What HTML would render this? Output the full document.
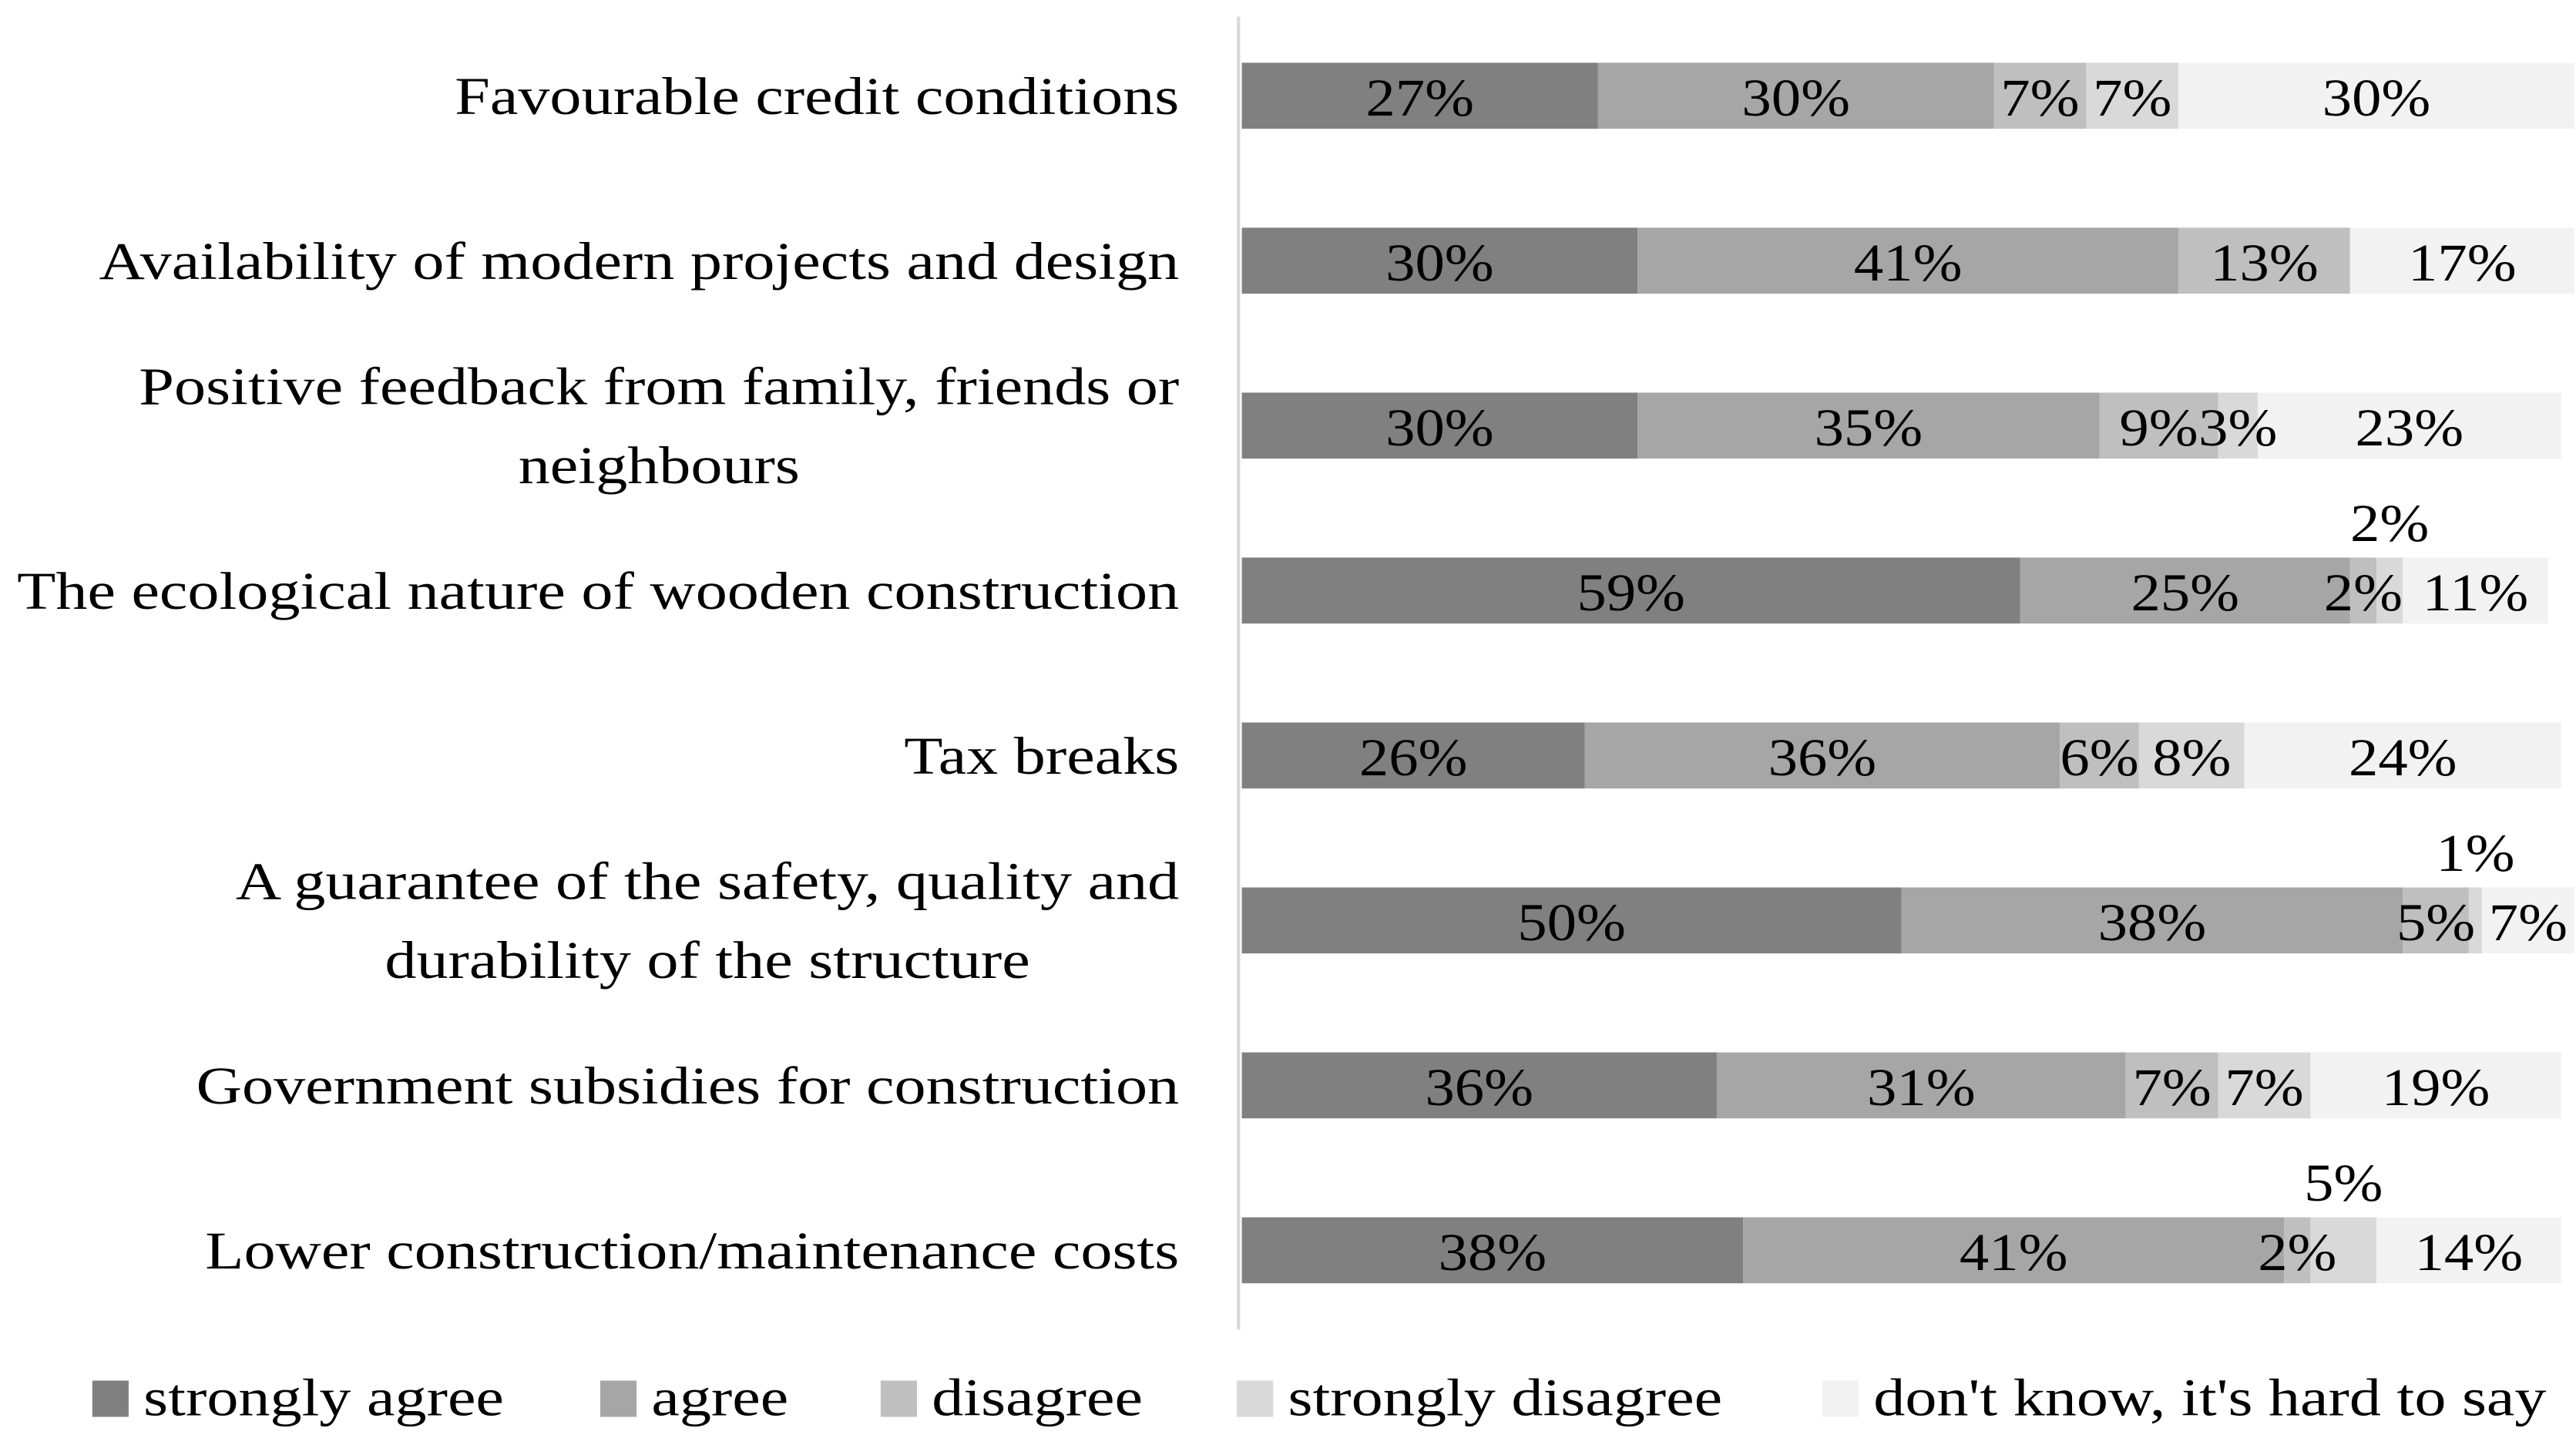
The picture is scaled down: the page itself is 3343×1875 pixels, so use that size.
<!DOCTYPE html>
<html><head><meta charset="utf-8"><style>
html,body{margin:0;padding:0;background:#fff}
svg{display:block}
text{font-family:"Liberation Serif",serif;fill:#000}
</style></head><body>
<svg id="chart" width="3343" height="1875" viewBox="0 0 1562 876" xmlns="http://www.w3.org/2000/svg">
<line x1="751" y1="10" x2="751" y2="806" stroke="#d9d9d9" stroke-width="2"/>
<g id="bars"></g>
<g id="vals"></g>
<g id="cats"></g>
<g id="legend"></g>
</svg>
<script>
const categories = [
  ["Favourable credit conditions"],
  ["Availability of modern projects and design"],
  ["Positive feedback from family, friends or","neighbours"],
  ["The ecological nature of wooden construction"],
  ["Tax breaks"],
  ["A guarantee of the safety, quality and","durability of the structure"],
  ["Government subsidies for construction"],
  ["Lower construction/maintenance costs"]
];
const seriesNames = ["strongly agree","agree","disagree","strongly disagree","don't know, it's hard to say"];
const stronglyAgree = [27,30,30,59,26,50,36,38];
const agree = [30,41,35,25,36,38,31,41];
const disagree = [7,13,9,2,6,5,7,2];
const stronglyDisagree = [7,0,3,2,8,1,7,5];
const dontKnow = [30,17,23,11,24,7,19,14];

const series = [stronglyAgree, agree, disagree, stronglyDisagree, dontKnow];
const colors = ["#808080","#a6a6a6","#bfbfbf","#d9d9d9","#f2f2f2"];
const NS = "http://www.w3.org/2000/svg";
const x0 = 753, fullW = 800, rowStep = 100, firstY = 58, barH = 40;
const STRETCH = 1.2, VSTRETCH = 1.12;
function xScale(v){ return v/100*fullW; }
function yScale(i){ return firstY + i*rowStep; }
function stretch(t, f){
  const w = t.getComputedTextLength();
  t.setAttribute('textLength', w*f);
  t.setAttribute('lengthAdjust','spacingAndGlyphs');
}

const gb = document.getElementById('bars');
const gv = document.getElementById('vals');
const gc = document.getElementById('cats');
const gl = document.getElementById('legend');

categories.forEach((lines,i)=>{
  const cy = yScale(i);
  let x = x0;
  const vals = series.map(s=>s[i]);
  vals.forEach((v,k)=>{
    if(v<=0) return;
    const w = xScale(v);
    const r = document.createElementNS(NS,'rect');
    r.setAttribute('x',x); r.setAttribute('y',cy-barH/2);
    r.setAttribute('width',w); r.setAttribute('height',barH);
    r.setAttribute('fill',colors[k]);
    
    
    gb.appendChild(r);
    const above = (k===3 && vals[2]+vals[3]<=7);
    const t = document.createElementNS(NS,'text');
    t.setAttribute('x', x+w/2);
    t.setAttribute('y', above ? cy-30 : cy+12);
    t.setAttribute('text-anchor','middle');
    t.setAttribute('font-size','32');
    t.textContent = v+'%';
    
    
    gv.appendChild(t);
    stretch(t, VSTRETCH);
    x += w;
  });
  const tg = document.createElementNS(NS,'g');
  
  
  gc.appendChild(tg);
  const n = lines.length;
  const texts = lines.map((ln,j)=>{
    const t = document.createElementNS(NS,'text');
    t.setAttribute('font-size','32');
    t.setAttribute('y', cy + 11 + (j-(n-1)/2)*48);
    t.textContent = ln;
    tg.appendChild(t);
    return t;
  });
  const widths = texts.map(t=>t.getComputedTextLength()*STRETCH);
  texts.forEach((t,j)=>{ t.setAttribute('textLength', widths[j]); t.setAttribute('lengthAdjust','spacingAndGlyphs'); });
  if(n===1){
    texts[0].setAttribute('x',715); texts[0].setAttribute('text-anchor','end');
  } else {
    const maxW = Math.max(...widths);
    const c = 715 - maxW/2;
    texts.forEach(t=>{ t.setAttribute('x',c); t.setAttribute('text-anchor','middle'); });
  }
});

const legX = [56,364,534,750,1105];
seriesNames.forEach((nm,k)=>{
  const g = document.createElementNS(NS,'g');
  
  
  const r = document.createElementNS(NS,'rect');
  r.setAttribute('x',legX[k]); r.setAttribute('y',837);
  r.setAttribute('width',22); r.setAttribute('height',22);
  r.setAttribute('fill',colors[k]);
  g.appendChild(r);
  const t = document.createElementNS(NS,'text');
  t.setAttribute('x',legX[k]+31); t.setAttribute('y',858);
  t.setAttribute('font-size','32');
  t.textContent = nm;
  g.appendChild(t);
  gl.appendChild(g);
  stretch(t, STRETCH);
});
</script>
</body></html>
